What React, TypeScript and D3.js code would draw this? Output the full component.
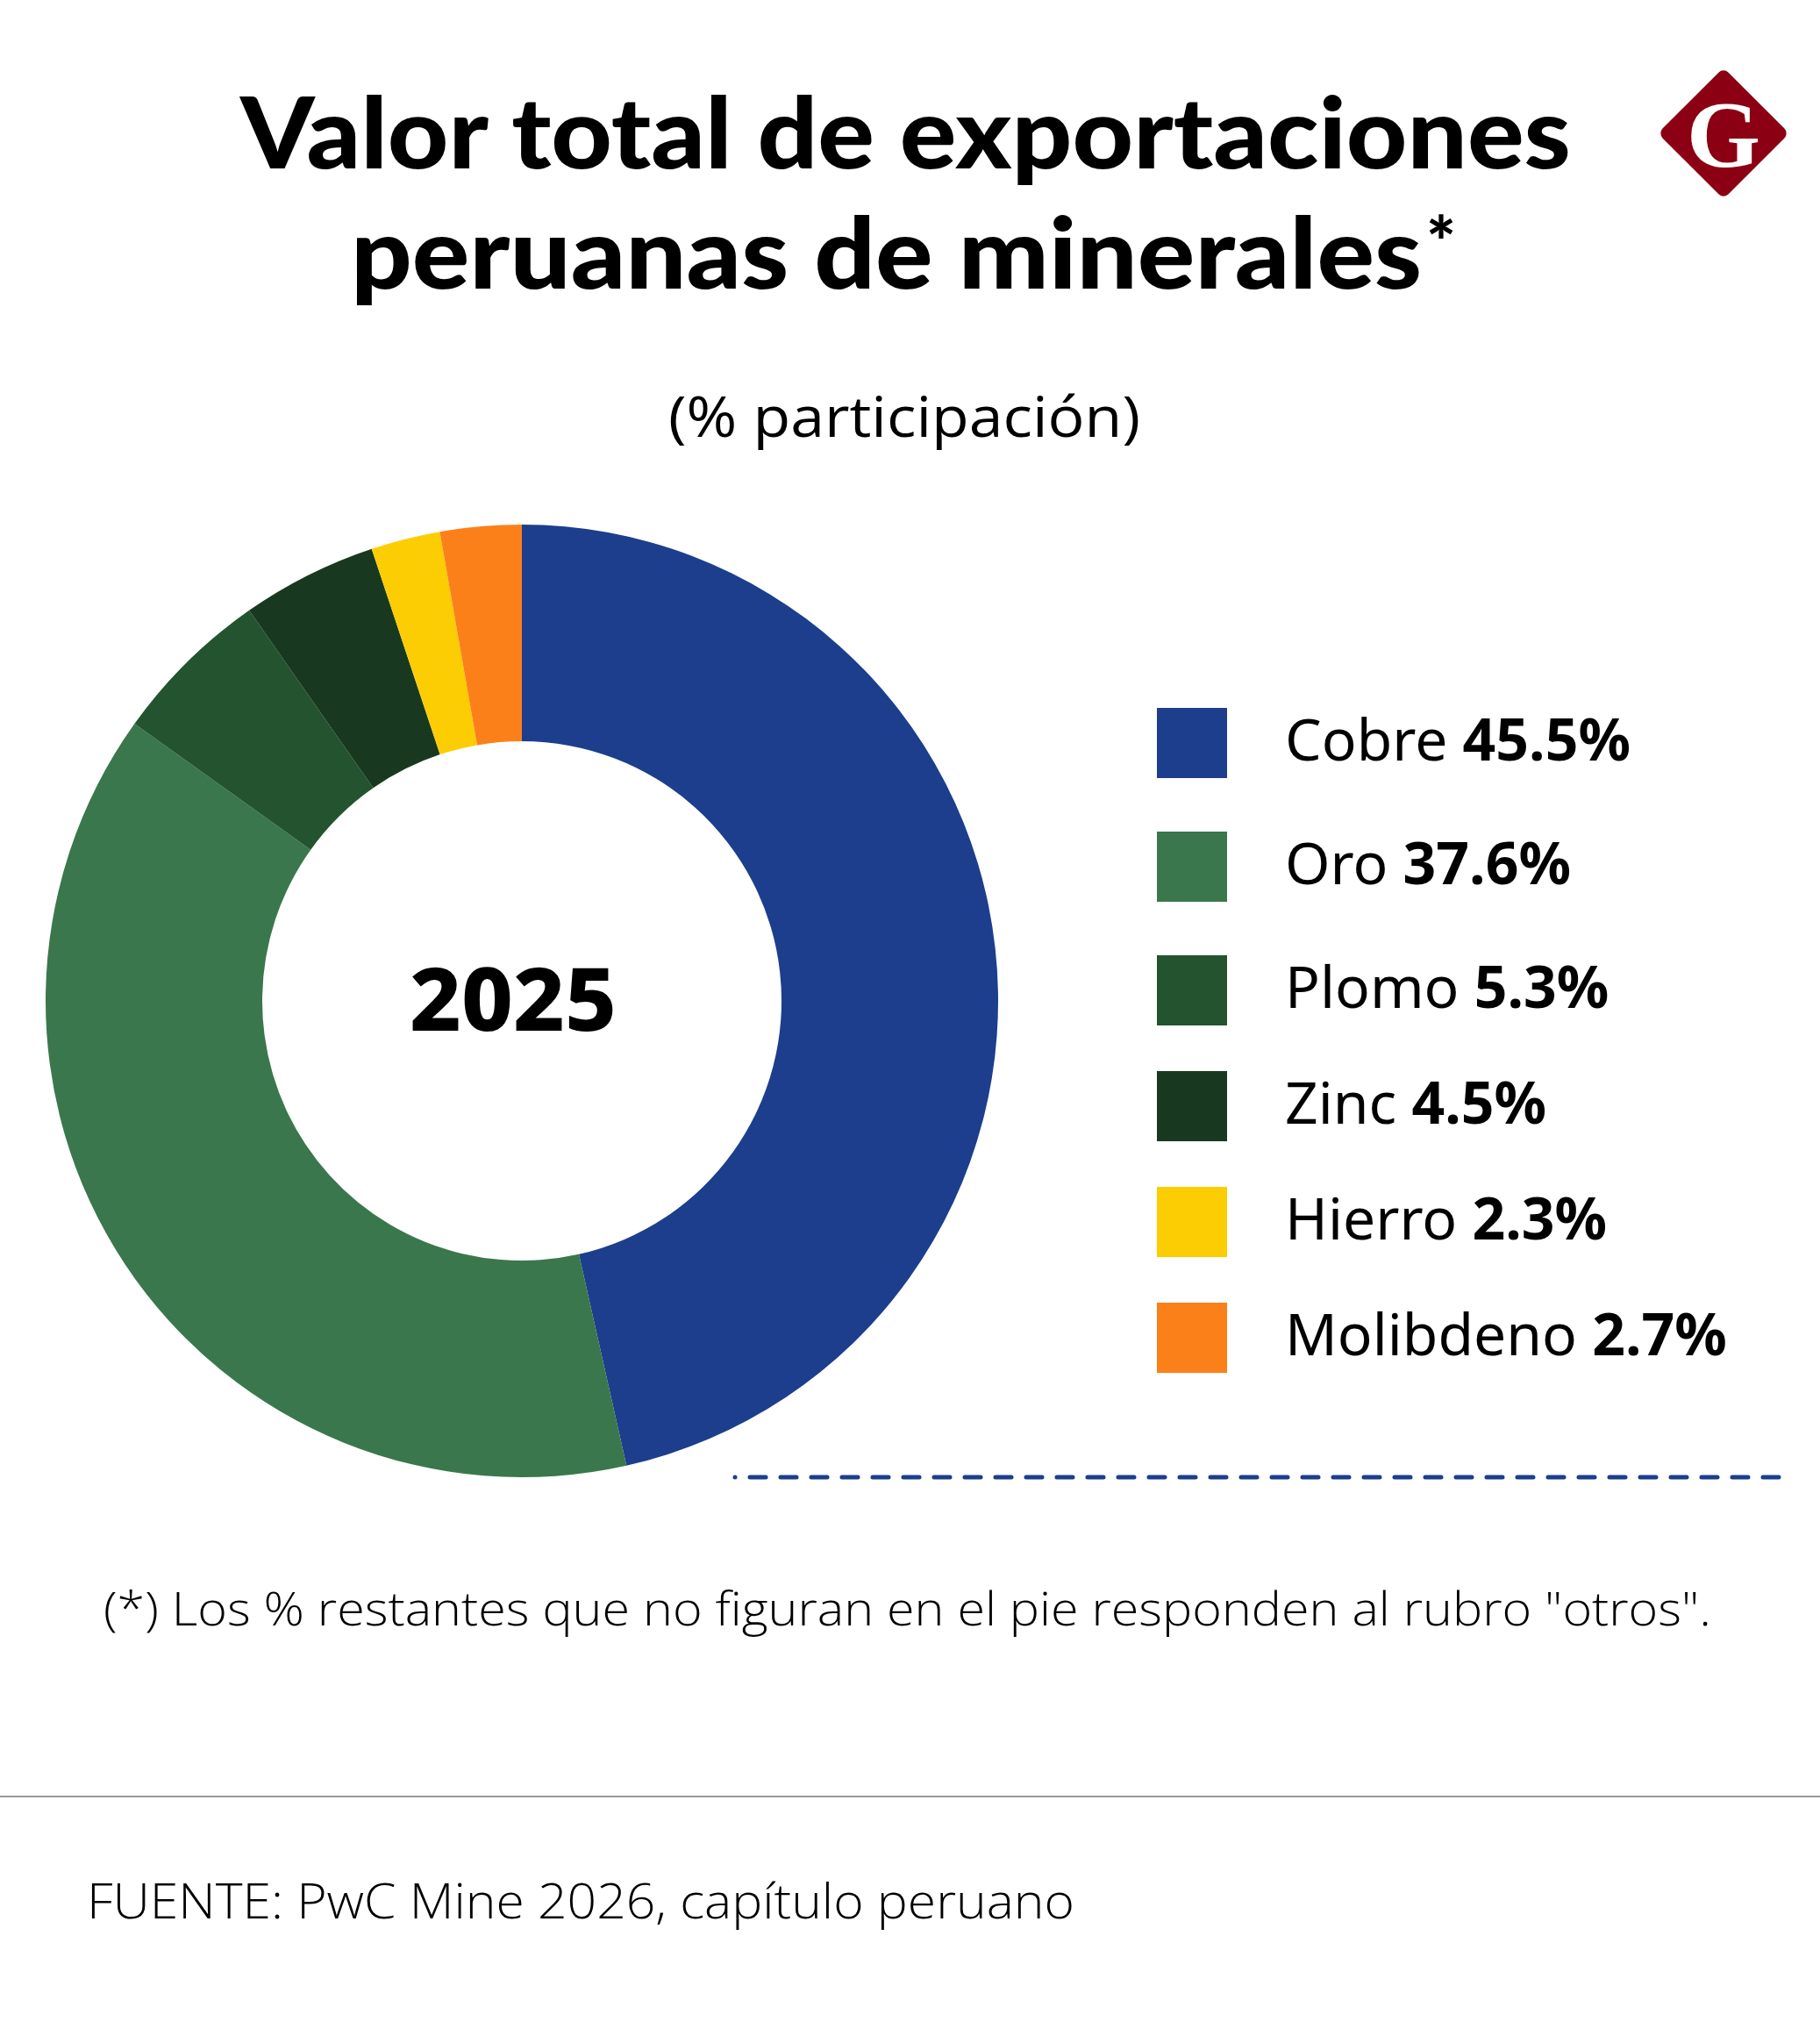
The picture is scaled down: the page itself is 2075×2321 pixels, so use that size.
import React from "react";
import * as d3 from "d3";

const categories = ["Cobre", "Oro", "Plomo", "Zinc", "Hierro", "Molibdeno"];
const values = [45.5, 37.6, 5.3, 4.5, 2.3, 2.7];
const valueLabels = ["45.5%", "37.6%", "5.3%", "4.5%", "2.3%", "2.7%"];
const colors = ["#1C3E8C", "#3A774D", "#23532F", "#18391F", "#FDCD03", "#FC8019"];

const W = 2075;
const H = 2321;
const CX = 595;
const CY = 1141;
const R_OUT = 543;
const R_IN = 296;
const LEGEND_ROWS = [847, 988, 1129, 1261, 1393, 1525];

export default function App() {
  const data = categories.map((c, i) => ({ name: c, value: values[i], color: colors[i], label: valueLabels[i] }));
  const pie = d3.pie<any>().sort(null).value((d: any) => d.value);
  const arc = d3.arc<any>().innerRadius(R_IN).outerRadius(R_OUT);
  const arcs = pie(data);

  return (
    <div style={{ position: "absolute", left: 0, top: 0, background: "#fff" }}>
      <svg width={W} height={H} viewBox={`0 0 ${W} ${H}`} style={{ display: "block", background: "#fff" }}>
        <rect x={0} y={0} width={W} height={H} fill="#fff" />
        {/* Title */}
        <text x={274} y={192} fontFamily="Lato" fontWeight={900} fontSize={112} fill="#000"
          textLength={1517} lengthAdjust="spacingAndGlyphs">Valor total de exportaciones</text>
        <text x={400} y={329} fontFamily="Lato" fontWeight={900} fontSize={112} fill="#000"
          textLength={1221} lengthAdjust="spacingAndGlyphs">peruanas de minerales</text>
        <text x={1626} y={305} fontFamily="Lato" fontWeight={900} fontSize={80} fill="#000">*</text>
        {/* Subtitle */}
        <text x={762} y={498} fontFamily="Open Sans" fontWeight={400} fontSize={64} fill="#000"
          textLength={538} lengthAdjust="spacingAndGlyphs">(% participación)</text>

        {/* Logo */}
        <g transform="translate(1965,152)">
          <rect x={-53} y={-53} width={106} height={106} rx={8} ry={8} fill="#8B0013" transform="rotate(45)" />
          <text x={0} y={38} textAnchor="middle" fontFamily="Liberation Serif" fontWeight={700} fontSize={108} fill="#fff">G</text>
        </g>

        {/* Donut */}
        <g transform={`translate(${CX},${CY})`}>
          {arcs.map((a: any, i: number) => (
            <path key={i} d={arc(a) as string} fill={a.data.color} />
          ))}
          <text x={-10} y={34} textAnchor="middle" fontFamily="Noto Sans" fontWeight={800} fontSize={100} fill="#000"
            textLength={236} lengthAdjust="spacingAndGlyphs">2025</text>
        </g>

        {/* Legend */}
        {data.map((d, i) => (
          <g key={d.name} transform={`translate(1319,${LEGEND_ROWS[i]})`}>
            <rect x={0} y={-40} width={80} height={80} fill={d.color} />
            <text x={146} y={20} fontFamily="Noto Sans" fontSize={66} fill="#000">
              <tspan fontWeight={400}>{d.name} </tspan>
              <tspan fontWeight={700}>{d.label}</tspan>
            </text>
          </g>
        ))}

        {/* Dashed line */}
        <line x1={838} x2={2036} y1={1684} y2={1684} stroke="#1C3E8C" strokeWidth={5}
          strokeDasharray="0 17 18 0" strokeLinecap="round" />

        {/* Footnote */}
        <text x={118} y={1853} fontFamily="Open Sans" fontWeight={300} fontSize={54} fill="#000"
          textLength={1833} lengthAdjust="spacingAndGlyphs">(*) Los % restantes que no figuran en el pie responden al rubro "otros".</text>

        {/* Separator */}
        <line x1={0} x2={W} y1={2048} y2={2048} stroke="#9a9a9a" strokeWidth={2} />

        {/* Source */}
        <text x={99} y={2187} fontFamily="Open Sans" fontWeight={300} fontSize={56} fill="#000"
          textLength={1126} lengthAdjust="spacingAndGlyphs">FUENTE: PwC Mine 2026, capítulo peruano</text>
      </svg>
    </div>
  );
}
